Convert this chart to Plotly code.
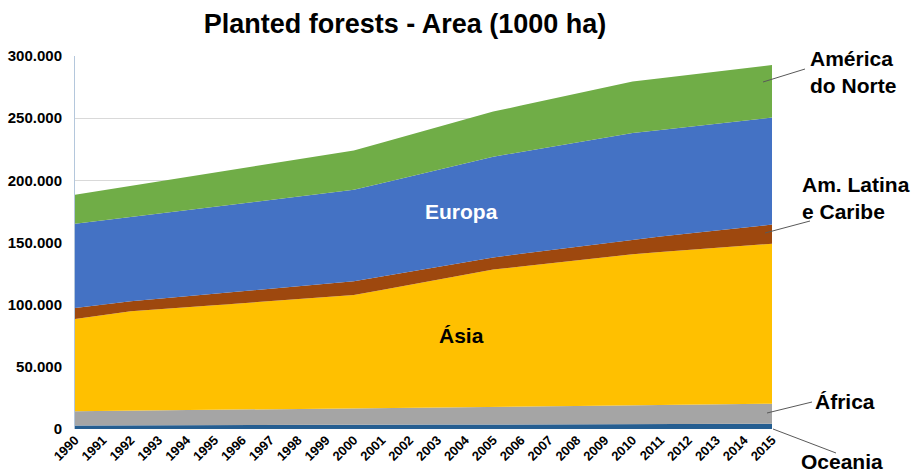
import plotly.graph_objects as go

years = list(range(1990, 2016))

# Values in 1000 ha
oceania = [2800, 2900, 2900, 3000, 3000, 3100, 3200, 3200, 3300, 3300, 3400,
           3500, 3500, 3600, 3600, 3700, 3800, 3800, 3900, 3900, 4000,
           4100, 4100, 4200, 4200, 4300]
africa = [11500, 11600, 11800, 11900, 12000, 12200, 12300, 12400, 12500, 12700, 12800,
          13000, 13200, 13500, 13700, 13900, 14100, 14400, 14600, 14900, 15100,
          15300, 15500, 15600, 15800, 16000]
asia = [74200, 77100, 80000, 81400, 82900, 84300, 85800, 87200, 88600, 90100, 91500,
        95300, 99100, 103000, 106800, 110600, 112800, 115000, 117100, 119300, 121500,
        122900, 124400, 125800, 127300, 128700]
latam = [8800, 8400, 8000, 8400, 8800, 9200, 9600, 10000, 10400, 10800, 11200,
         10900, 10600, 10400, 10100, 9800, 10200, 10600, 11100, 11500, 11900,
         12600, 13300, 14000, 14700, 15400]
europa = [67700, 67700, 67800, 68500, 69200, 69900, 70700, 71400, 72100, 72800, 73500,
          75000, 76500, 78000, 79500, 81000, 81900, 82800, 83700, 84600, 85500,
          85600, 85700, 85900, 86000, 86100]
n_america = [23400, 24200, 25000, 25900, 26700, 27500, 28300, 29100, 30000, 30800, 31600,
             32500, 33500, 34400, 35400, 36300, 37300, 38300, 39400, 40400, 41400,
             41600, 41800, 42000, 42100, 42300]

series_names = ["Oceania", "África", "Ásia", "Am. Latina e Caribe", "Europa", "América do Norte"]
series_values = [oceania, africa, asia, latam, europa, n_america]
series_colors = ["#255E91", "#A5A5A5", "#FFC000", "#9E480E", "#4472C4", "#70AD47"]

y_ticks = [0, 50000, 100000, 150000, 200000, 250000, 300000]
title_text = "Planted forests - Area (1000 ha)"

FONT = "Liberation Sans, Arial, sans-serif"

fig = go.Figure()
for name, vals, col in zip(series_names, series_values, series_colors):
    fig.add_trace(go.Scatter(
        x=years, y=vals, name=name, stackgroup="one", mode="lines",
        line=dict(width=0, color=col), fillcolor=col, hoverinfo="x+y+name",
    ))

# geometry helpers (pixel -> paper)
W, H = 911, 475
L, R, T, B = 75, 139, 56, 46
pw, ph = W - L - R, H - T - B


def px(x):
    return (x - L) / pw


def py(y):
    return (H - B - y) / ph


fig.update_layout(
    width=W, height=H,
    margin=dict(l=L, r=R, t=T, b=B, autoexpand=False),
    paper_bgcolor="white", plot_bgcolor="white",
    showlegend=False,
    separators=",.",
    font=dict(family=FONT, color="black"),
    title=dict(text="<b>" + title_text + "</b>", x=405 / W, xanchor="center",
               y=1 - 24 / H, yanchor="middle",
               font=dict(size=27, family=FONT, color="black")),
    xaxis=dict(range=[1990, 2015], tickmode="array", tickvals=years,
               ticktext=["<b>%d</b>" % y for y in years], tickangle=-45,
               tickfont=dict(size=13, family=FONT, color="black"),
               showgrid=False, zeroline=False, showline=False, ticks="",
               automargin=False),
    yaxis=dict(range=[0, 300000], tickmode="array", tickvals=y_ticks,
               ticktext=["<b>%s</b>" % ("{:,}".format(v).replace(",", ".")) for v in y_ticks],
               tickfont=dict(size=15, family=FONT, color="black"),
               showgrid=True, gridcolor="#D9D9D9", gridwidth=1,
               zeroline=False, showline=True, linecolor="#B4C7DC", linewidth=1,
               ticks="", ticklabelstandoff=9, automargin=False),
)

labels = [
    ("<b>América<br>do Norte</b>", 853, 72, "black"),
    ("<b>Am. Latina<br>e Caribe</b>", 856, 198, "black"),
    ("<b>África</b>", 845, 401, "black"),
    ("<b>Oceania</b>", 842, 461, "black"),
    ("<b>Europa</b>", 462, 212, "white"),
    ("<b>Ásia</b>", 462, 335, "black"),
]
for text, x, y, col in labels:
    fig.add_annotation(text=text, xref="paper", yref="paper", x=px(x), y=py(y),
                       xanchor="center", yanchor="middle", showarrow=False,
                       align="left", font=dict(size=21, family=FONT, color=col))

pointer_lines = [
    (805, 69, 763, 82),
    (810, 221, 765, 233),
    (812, 402, 767, 413),
    (773, 429, 836, 453),
]
for x0, y0, x1, y1 in pointer_lines:
    fig.add_shape(type="line", xref="paper", yref="paper",
                  x0=px(x0), y0=py(y0), x1=px(x1), y1=py(y1),
                  line=dict(color="#595959", width=1))

fig.write_html("out.html")
